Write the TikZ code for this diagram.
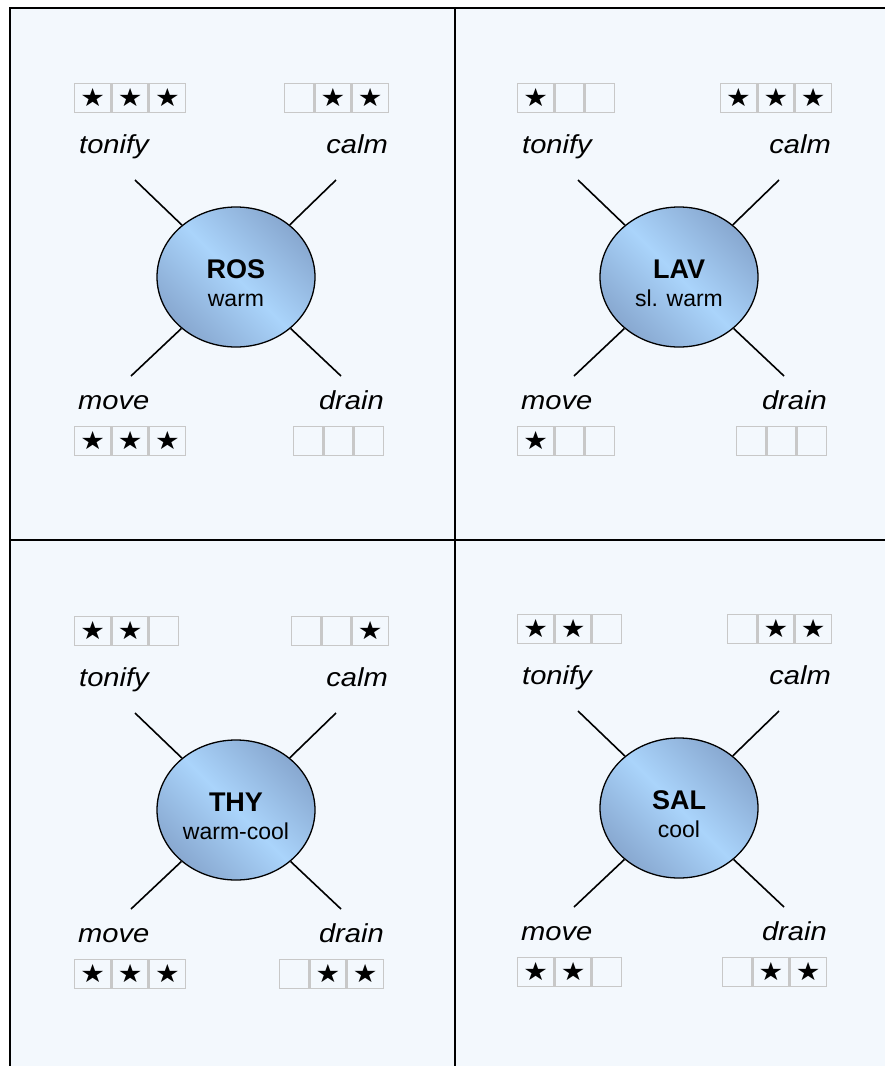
\documentclass[tikz,border=0pt]{standalone}
\usepackage{fontspec}
\setmainfont{Liberation Sans}
\newfontfamily\labfont[FakeStretch=1.12]{Liberation Sans}
\newfontfamily\starfont[FakeStretch=1.1]{DejaVu Sans}
\usetikzlibrary{shapes.geometric}
\definecolor{panelbg}{HTML}{F3F8FD}
\definecolor{cellgray}{HTML}{C8C8C8}
\definecolor{ballA}{HTML}{88A8D0}
\definecolor{ballB}{HTML}{AAD4FB}
\tikzset{
  gridline/.style={draw=black, line width=1.6},
  c1/.style={draw=cellgray, line width=1.4, minimum width=36, minimum height=29, inner sep=0pt, font=\starfont\fontsize{25}{25}\selectfont},
  c0/.style={draw=cellgray, line width=1.4, minimum width=29, minimum height=29, inner sep=0pt},
  ball/.style={ellipse, draw=black, line width=1.3, minimum width=158, minimum height=140, inner sep=0pt,
    left color=ballA, right color=ballA, middle color=ballB, shading angle=-45},
  herb/.style={font=\fontsize{27}{27}\selectfont\bfseries, inner sep=0pt},
  temp/.style={font=\fontsize{23}{23}\selectfont, inner sep=0pt},
  act/.style={font=\labfont\fontsize{26}{26}\selectfont\itshape, inner sep=0pt},
  spoke/.style={draw=black, line width=1.6},
}
\newcommand\sym[1]{\ifnum#1=1 ★\fi}
\newcommand\lbox[6]{%
  \node[c#4, anchor=west] (#1a) at (#2,#3) {\sym{#4}};
  \node[c#5, anchor=west] (#1b) at (#1a.east) {\sym{#5}};
  \node[c#6, anchor=west] (#1c) at (#1b.east) {\sym{#6}};}
\newcommand\rbox[6]{%
  \node[c#6, anchor=east] (#1c) at (#2,#3) {\sym{#6}};
  \node[c#5, anchor=east] (#1b) at (#1c.west) {\sym{#5}};
  \node[c#4, anchor=east] (#1a) at (#1b.west) {\sym{#4}};}
\newcommand\panel[3]{%
  \node[ball] (#1) at (236,277) {};
  \node[herb] (#1-n) at (236,269) {#2};
  \node[temp, anchor=base] (#1-s) at (236,306) {#3};
  \node[act, anchor=base west] (#1-t) at (79,153) {tonify};
  \node[act, anchor=base east] (#1-c) at (388,153) {calm};
  \node[act, anchor=base west] (#1-m) at (78,409) {move};
  \node[act, anchor=base east] (#1-d) at (384,409) {drain};
  \coordinate (#1-tl) at (135,180);
  \coordinate (#1-tr) at (336,180);
  \coordinate (#1-bl) at (131,376);
  \coordinate (#1-br) at (341,376);
  \draw[spoke] (#1) -- (#1-tl);
  \draw[spoke] (#1) -- (#1-tr);
  \draw[spoke] (#1) -- (#1-bl);
  \draw[spoke] (#1) -- (#1-br);}
\begin{document}
\begin{tikzpicture}[x=1pt,y=-1pt]
\useasboundingbox (0,0) rectangle (885,1066);
\fill[white] (0,0) rectangle (885,1066);
\fill[panelbg] (10,8) rectangle (885,1066);
\draw[gridline] (10,1066) -- (10,8) -- (885,8);
\draw[gridline] (455,8) -- (455,1066);
\draw[gridline] (10,540) -- (885,540);
% ROS
\begin{scope}[shift={(0,0)}]
  \panel{ros}{ROS}{warm}
  \lbox{rost}{74}{98}{1}{1}{1}
  \rbox{rosc}{389}{98}{0}{1}{1}
  \lbox{rosm}{74}{441}{1}{1}{1}
  \rbox{rosd}{384}{441}{0}{0}{0}
\end{scope}
% LAV
\begin{scope}[shift={(443,0)}]
  \panel{lav}{LAV}{sl. warm}
  \lbox{lavt}{74}{98}{1}{0}{0}
  \rbox{lavc}{389}{98}{1}{1}{1}
  \lbox{lavm}{74}{441}{1}{0}{0}
  \rbox{lavd}{384}{441}{0}{0}{0}
\end{scope}
% THY
\begin{scope}[shift={(0,533)}]
  \panel{thy}{THY}{warm-cool}
  \lbox{thyt}{74}{98}{1}{1}{0}
  \rbox{thyc}{389}{98}{0}{0}{1}
  \lbox{thym}{74}{441}{1}{1}{1}
  \rbox{thyd}{384}{441}{0}{1}{1}
\end{scope}
% SAL
\begin{scope}[shift={(443,531)}]
  \panel{sal}{SAL}{cool}
  \lbox{salt}{74}{98}{1}{1}{0}
  \rbox{salc}{389}{98}{0}{1}{1}
  \lbox{salm}{74}{441}{1}{1}{0}
  \rbox{sald}{384}{441}{0}{1}{1}
\end{scope}
\end{tikzpicture}
\end{document}
